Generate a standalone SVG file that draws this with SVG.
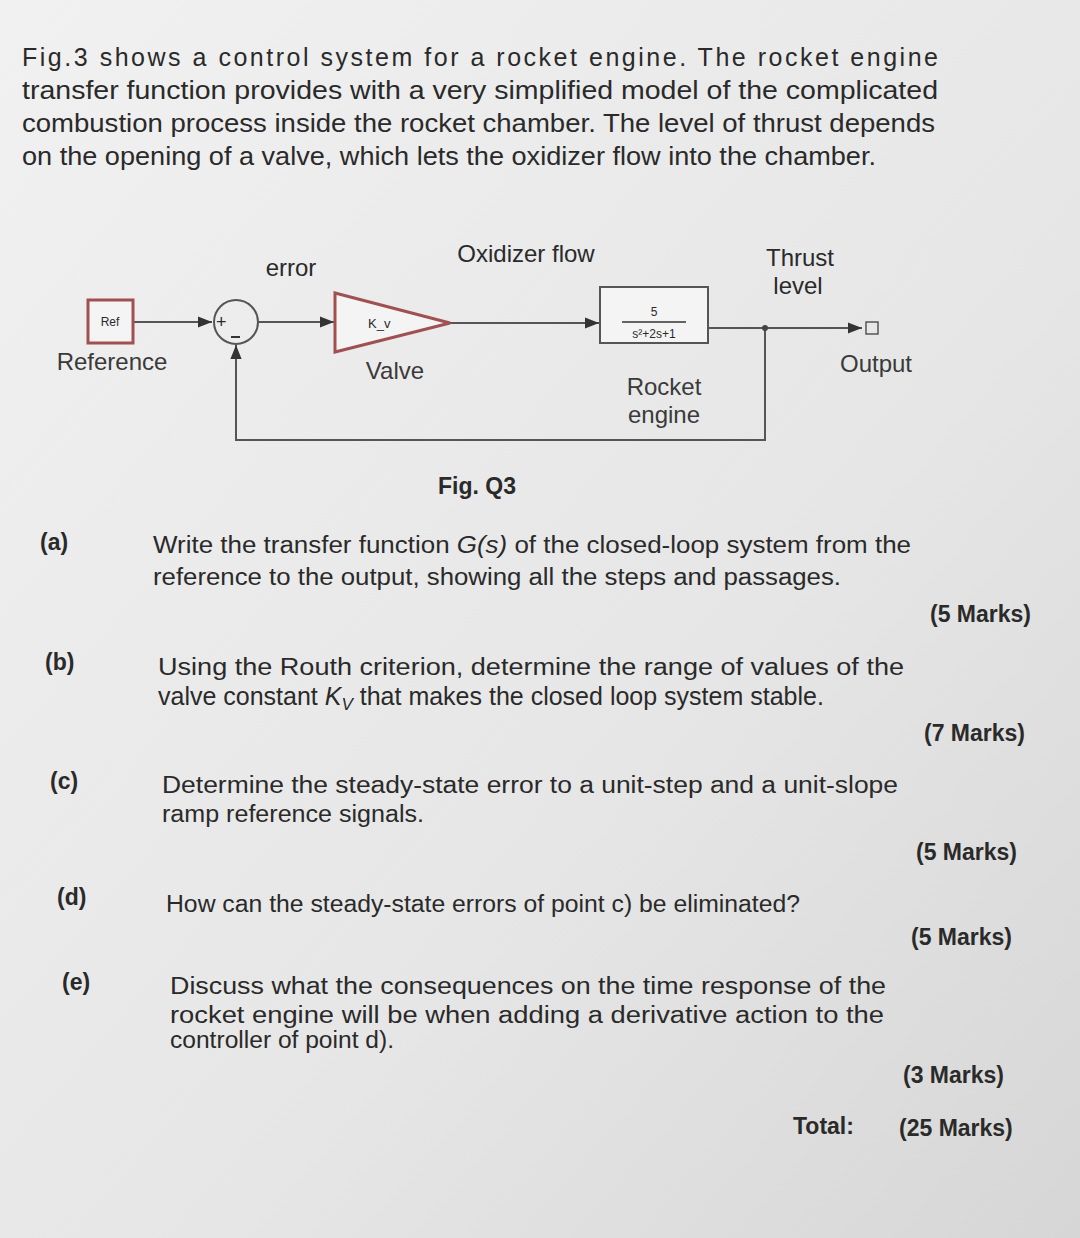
<svg xmlns="http://www.w3.org/2000/svg" width="1080" height="1238" viewBox="0 0 1080 1238">
<defs>
<linearGradient id="bg" x1="0" y1="0" x2="1" y2="1">
<stop offset="0" stop-color="#f1f1f1"/><stop offset="0.6" stop-color="#e6e6e6"/><stop offset="1" stop-color="#d6d6d6"/>
</linearGradient>
<marker id="ah" viewBox="0 0 10 10" refX="10" refY="5" markerWidth="7" markerHeight="7" orient="auto"><path d="M0,1 L10,5 L0,9 z" fill="#333"/></marker>
<style>
text{font-family:"Liberation Sans",Arial,sans-serif;fill:#2a2a2a}
.p{font-size:25px}
.q{font-size:23px}
.l{font-size:24px;fill:#3a3a3a}
.b{font-weight:bold}
.w{stroke:#555;stroke-width:2;fill:none}
</style>
</defs>
<rect width="1080" height="1238" fill="url(#bg)"/>
<g id="intro" class="p">
<text x="22" y="66" textLength="916" lengthAdjust="spacing">Fig.3 shows a control system for a rocket engine. The rocket engine</text>
<text x="22" y="99" textLength="916" lengthAdjust="spacingAndGlyphs">transfer function provides with a very simplified model of the complicated</text>
<text x="22" y="132" textLength="913" lengthAdjust="spacingAndGlyphs">combustion process inside the rocket chamber. The level of thrust depends</text>
<text x="22" y="165" textLength="854" lengthAdjust="spacingAndGlyphs">on the opening of a valve, which lets the oxidizer flow into the chamber.</text>
</g>
<g id="connectors">
<line class="w" x1="133" y1="322" x2="212" y2="322" marker-end="url(#ah)"/>
<line class="w" x1="258" y1="322" x2="334" y2="322" marker-end="url(#ah)"/>
<line class="w" x1="450" y1="323" x2="599" y2="323" marker-end="url(#ah)"/>
<line class="w" x1="708" y1="328" x2="862" y2="328" marker-end="url(#ah)"/>
<polyline class="w" points="765,328 765,440 236,440 236,345" marker-end="url(#ah)"/>
<circle cx="765" cy="328" r="3" fill="#444"/>
</g>
<g id="ref"><rect x="88" y="300" width="45" height="43" fill="#f4f4f4" stroke="#a05050" stroke-width="3"/><text x="110" y="326" font-size="12" text-anchor="middle">Ref</text><text class="l" x="112" y="370" text-anchor="middle">Reference</text></g>
<g id="sum"><circle cx="236" cy="322" r="22" fill="none" stroke="#555" stroke-width="2"/><text x="216" y="328" font-size="18">+</text><line x1="231" y1="337" x2="240" y2="337" stroke="#333" stroke-width="2"/></g>
<g id="valve"><polygon points="335,293 335,352 450,323" fill="#f4f4f4" stroke="#a05050" stroke-width="3"/><text x="368" y="328" font-size="13">K_v</text><text class="l" x="395" y="379" text-anchor="middle">Valve</text></g>
<g id="rocket"><rect x="600" y="287" width="108" height="56" fill="#f4f4f4" stroke="#555" stroke-width="2"/><text x="654" y="316" font-size="12" text-anchor="middle">5</text><line x1="622" y1="322" x2="686" y2="322" stroke="#333" stroke-width="1.5"/><text x="654" y="338" font-size="12" text-anchor="middle">s²+2s+1</text><text class="l" x="664" y="395" text-anchor="middle">Rocket</text><text class="l" x="664" y="423" text-anchor="middle">engine</text></g>
<g id="output"><rect x="866" y="322" width="12" height="12" fill="none" stroke="#555" stroke-width="1.5"/><text class="l" x="876" y="372" text-anchor="middle">Output</text></g>
<g id="labels" class="l">
<text x="291" y="276" text-anchor="middle">error</text>
<text x="526" y="262" text-anchor="middle">Oxidizer flow</text>
<text x="800" y="266" text-anchor="middle">Thrust</text>
<text x="798" y="294" text-anchor="middle">level</text>
</g>
<text x="477" y="494" class="q b" text-anchor="middle">Fig. Q3</text>
<g id="questions" class="q">
<text x="40" y="550" class="b">(a)</text>
<text x="153" y="553" textLength="758" lengthAdjust="spacingAndGlyphs">Write the transfer function <tspan font-style="italic">G(s)</tspan> of the closed-loop system from the</text>
<text x="153" y="585" textLength="688" lengthAdjust="spacingAndGlyphs">reference to the output, showing all the steps and passages.</text>
<text x="930" y="622" class="b">(5 Marks)</text>
<text x="45" y="670" class="b">(b)</text>
<text x="158" y="675" textLength="746" lengthAdjust="spacingAndGlyphs">Using the Routh criterion, determine the range of values of the</text>
<text x="158" y="705" font-size="25">valve constant <tspan font-style="italic">K</tspan><tspan font-style="italic" font-size="17" dy="5">V</tspan><tspan dy="-5"> that makes the closed loop system stable.</tspan></text>
<text x="924" y="741" class="b">(7 Marks)</text>
<text x="50" y="789" class="b">(c)</text>
<text x="162" y="793" textLength="736" lengthAdjust="spacingAndGlyphs">Determine the steady-state error to a unit-step and a unit-slope</text>
<text x="162" y="822" textLength="262" lengthAdjust="spacingAndGlyphs">ramp reference signals.</text>
<text x="916" y="860" class="b">(5 Marks)</text>
<text x="57" y="905" class="b">(d)</text>
<text x="166" y="912" textLength="634" lengthAdjust="spacingAndGlyphs">How can the steady-state errors of point c) be eliminated?</text>
<text x="911" y="945" class="b">(5 Marks)</text>
<text x="62" y="990" class="b">(e)</text>
<text x="170" y="994" textLength="716" lengthAdjust="spacingAndGlyphs">Discuss what the consequences on the time response of the</text>
<text x="170" y="1023" textLength="714" lengthAdjust="spacingAndGlyphs">rocket engine will be when adding a derivative action to the</text>
<text x="170" y="1048" textLength="224" lengthAdjust="spacingAndGlyphs">controller of point d).</text>
<text x="903" y="1083" class="b">(3 Marks)</text>
<text x="793" y="1134" class="b">Total:</text>
<text x="899" y="1136" class="b">(25 Marks)</text>
</g>
</svg>
